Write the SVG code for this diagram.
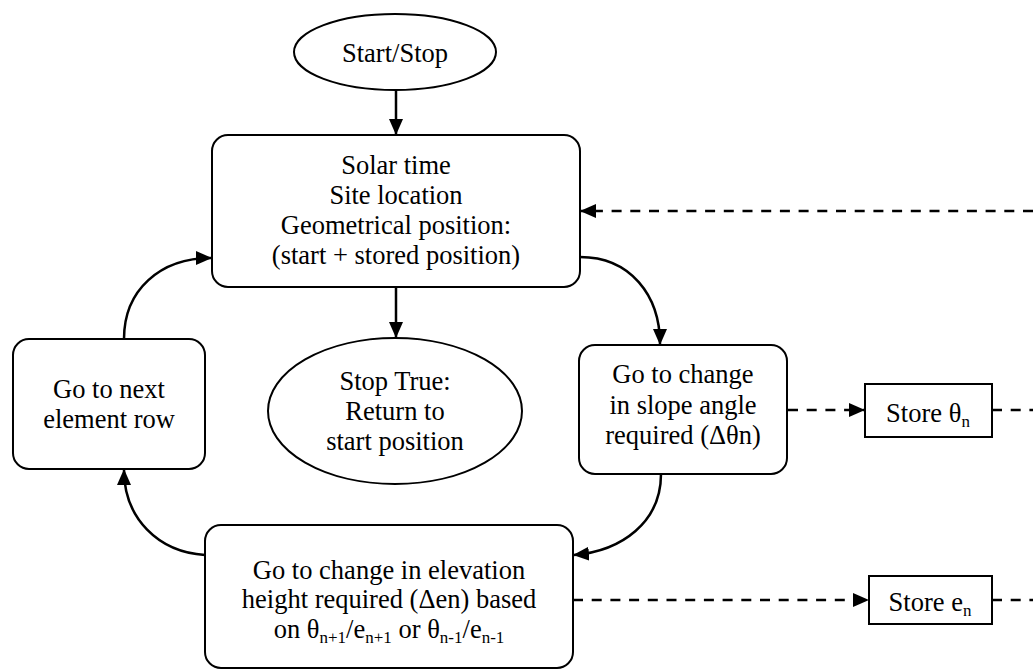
<svg xmlns="http://www.w3.org/2000/svg" width="1033" height="670" viewBox="0 0 1033 670">
  <style>
    .shape { fill: #ffffff; stroke: #000000; stroke-width: 2; }
    .label { font-family: "Liberation Serif", "DejaVu Serif", serif; font-size: 26.5px; fill: #000000; text-anchor: middle; }
    .sub { font-size: 17px; }
    .link { fill: none; stroke: #000000; stroke-width: 2.5; }
    .dash { fill: none; stroke: #000000; stroke-width: 2.5; stroke-dasharray: 10 8.7; }
  </style>
  <defs>
    <marker id="arrow" viewBox="0 0 16 14" refX="15" refY="7" markerWidth="16" markerHeight="14" markerUnits="userSpaceOnUse" orient="auto">
      <path d="M0,0 L16,7 L0,14 Z" fill="#000000"/>
    </marker>
  </defs>

  <rect width="1033" height="670" fill="#ffffff"/>

  <!-- connectors -->
  <g id="connectors">
    <line class="link" x1="396" y1="90" x2="396" y2="134" marker-end="url(#arrow)"/>
    <line class="link" x1="396" y1="287" x2="396" y2="337" marker-end="url(#arrow)"/>
    <path class="link" d="M580,257 C630,257 660,295 660,344" marker-end="url(#arrow)"/>
    <path class="link" d="M661,474 C661,522 622,551 574,555" marker-end="url(#arrow)"/>
    <path class="link" d="M205,555 C158,552 124,518 124,470" marker-end="url(#arrow)"/>
    <path class="link" d="M124,339 C124,290 160,258 211,258" marker-end="url(#arrow)"/>
    <line class="dash" x1="1033" y1="211" x2="581" y2="211" marker-end="url(#arrow)"/>
    <line class="dash" x1="788" y1="410" x2="864" y2="410" marker-end="url(#arrow)"/>
    <line class="dash" x1="992" y1="410" x2="1033" y2="410"/>
    <line class="dash" x1="573" y1="600" x2="868" y2="600" marker-end="url(#arrow)"/>
    <line class="dash" x1="992" y1="600" x2="1033" y2="600"/>
  </g>

  <g id="start-stop">
    <ellipse class="shape" cx="395" cy="52" rx="101" ry="38"/>
    <text class="label" x="395" y="62">Start/Stop</text>
  </g>

  <g id="inputs">
    <rect class="shape" x="212" y="135" width="368" height="152" rx="16"/>
    <text class="label" x="396" y="174">Solar time</text>
    <text class="label" x="396" y="204">Site location</text>
    <text class="label" x="396" y="234">Geometrical position:</text>
    <text class="label" x="396" y="264">(start + stored position)</text>
  </g>

  <g id="stop-true">
    <ellipse class="shape" cx="395" cy="411" rx="127" ry="73"/>
    <text class="label" x="395" y="390">Stop True:</text>
    <text class="label" x="395" y="420">Return to</text>
    <text class="label" x="395" y="450">start position</text>
  </g>

  <g id="next-row">
    <rect class="shape" x="13" y="339" width="192" height="130" rx="16"/>
    <text class="label" x="109" y="398">Go to next</text>
    <text class="label" x="109" y="428">element row</text>
  </g>

  <g id="slope-change">
    <rect class="shape" x="579" y="345" width="208" height="129" rx="16"/>
    <text class="label" x="683" y="383">Go to change</text>
    <text class="label" x="683" y="414">in slope angle</text>
    <text class="label" x="683" y="444">required (Δθn)</text>
  </g>

  <g id="store-theta">
    <rect class="shape" x="865" y="384" width="127" height="53"/>
    <text class="label" x="928" y="422">Store θ<tspan class="sub" dy="5">n</tspan></text>
  </g>

  <g id="elevation-change">
    <rect class="shape" x="205" y="525" width="368" height="143" rx="16"/>
    <text class="label" x="389" y="579">Go to change in elevation</text>
    <text class="label" x="389" y="608">height required (Δen) based</text>
    <text class="label" x="389" y="638">on θ<tspan class="sub" dy="5">n+1</tspan><tspan dy="-5">/e</tspan><tspan class="sub" dy="5">n+1</tspan><tspan dy="-5"> or θ</tspan><tspan class="sub" dy="5">n-1</tspan><tspan dy="-5">/e</tspan><tspan class="sub" dy="5">n-1</tspan></text>
  </g>

  <g id="store-e">
    <rect class="shape" x="869" y="576" width="123" height="48"/>
    <text class="label" x="930" y="611">Store e<tspan class="sub" dy="5">n</tspan></text>
  </g>
</svg>
